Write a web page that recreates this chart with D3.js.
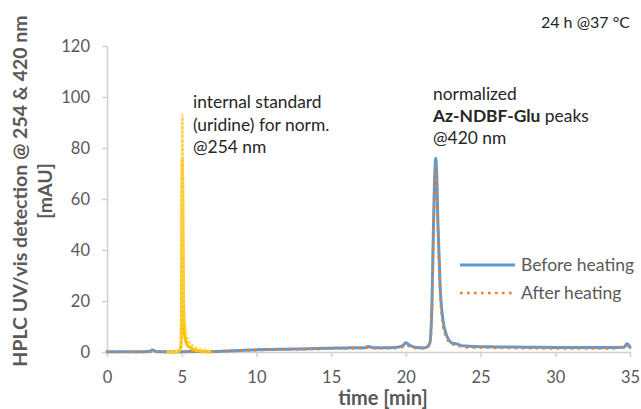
<html>
<head>
<meta charset="utf-8">
<style>
  body { margin: 0; background: #fff; }
  svg { display: block; font-family: "Lato", "Open Sans", sans-serif; }
</style>
<script src="https://cdn.jsdelivr.net/npm/d3@7"></script>
</head>
<body>
<div id="chart"></div>
<script>
// time [min] and signal [mAU]
const beforeTime = [0, 1, 2, 2.8, 3.05, 3.3, 4, 5, 6, 7, 8, 9, 10, 11, 12, 13, 14, 15, 16, 16.8, 17.2, 17.5, 17.8, 18.5, 19.3, 19.8, 20.0, 20.3, 20.7, 21.3, 21.6, 21.75, 21.85, 21.95, 22.0, 22.05, 22.15, 22.3, 22.5, 22.7, 22.9, 23.1, 23.4, 23.7, 24.2, 25, 26, 28, 30, 32, 34, 34.6, 34.8, 35];
const beforeValue = [0.1, 0.1, 0.1, 0.2, 0.8, 0.2, 0.1, 0.1, 0.2, 0.2, 0.4, 0.6, 0.9, 1.0, 1.1, 1.2, 1.4, 1.5, 1.6, 1.7, 1.6, 2.2, 1.7, 1.7, 1.8, 2.5, 3.6, 2.5, 1.8, 1.7, 3.5, 20, 50, 72, 76, 72, 50, 25, 12, 7, 4.5, 3.5, 3.2, 2.5, 2.3, 2.1, 2.0, 1.9, 1.8, 1.8, 1.8, 1.9, 3.2, 1.8];

const afterTime = [0, 1, 2, 3, 4, 5, 6, 7, 8, 9, 10, 11, 12, 13, 14, 15, 16, 17, 17.5, 18, 19, 19.8, 20.0, 20.3, 21, 21.6, 21.75, 21.85, 21.95, 22.0, 22.05, 22.15, 22.3, 22.5, 22.7, 22.9, 23.1, 23.4, 23.7, 24.2, 25, 26, 28, 30, 32, 34, 34.8, 35];
const afterValue = [0, 0, 0, 0.1, 0, 0, 0.1, 0.1, 0.3, 0.5, 0.7, 0.9, 1.0, 1.1, 1.2, 1.3, 1.4, 1.5, 1.7, 1.5, 1.5, 2.0, 2.8, 2.0, 1.4, 2.5, 17, 47, 69, 73, 69, 47, 23, 10, 6, 3.8, 3.0, 2.7, 2.2, 1.8, 1.7, 1.6, 1.5, 1.4, 1.4, 1.4, 2.5, 1.4];

// internal standard (uridine) @254 nm
const uridineTime = [4.0, 4.5, 4.8, 4.95, 5.0, 5.04, 5.08, 5.12, 5.17, 5.25, 5.35, 5.5, 5.7, 6.0, 6.3, 6.6, 7.0];
const uridineBefore = [0, 0, 0.3, 2, 25, 76, 45, 18, 9, 5, 3, 2, 1.2, 0.6, 0.3, 0.1, 0];
const uridineAfter = [0, 0.2, 0.6, 2.5, 30, 93, 60, 25, 14, 9, 6, 4, 2.5, 1.5, 1.0, 0.8, 0];

const xTicks = [0, 5, 10, 15, 20, 25, 30, 35];
const yTicks = [0, 20, 40, 60, 80, 100, 120];

const width = 641, height = 409;
const margin = { left: 107, right: 11, top: 46, bottom: 57 };

const svg = d3.select("#chart").append("svg")
  .attr("width", width)
  .attr("height", height);

const x = d3.scaleLinear().domain([0, 35]).range([margin.left, width - margin.right]);
const y = d3.scaleLinear().domain([0, 120]).range([height - margin.bottom, margin.top]);

const axisColor = "#d0d0d0";
const labelColor = "#595959";

// axes
const xAxis = svg.append("g")
  .attr("transform", `translate(0,${y(0)})`)
  .call(d3.axisBottom(x).tickValues(xTicks).tickSize(5).tickPadding(14).tickSizeOuter(0));
const yAxis = svg.append("g")
  .attr("transform", `translate(${x(0)},0)`)
  .call(d3.axisLeft(y).tickValues(yTicks).tickSize(5).tickPadding(12).tickSizeOuter(0));

[xAxis, yAxis].forEach(g => {
  g.select(".domain").attr("stroke", axisColor).attr("stroke-width", 1.5);
  g.selectAll(".tick line").attr("stroke", axisColor).attr("stroke-width", 1.5);
  g.selectAll(".tick text")
    .attr("fill", labelColor)
    .style("font-size", "16.5px")
    .style("font-family", "Lato, sans-serif");
});

const line = d3.line().x(d => x(d[0])).y(d => y(d[1])).curve(d3.curveMonotoneX);

function trace(tt, vv, color, w, dash, cap) {
  svg.append("path")
    .datum(d3.zip(tt, vv))
    .attr("fill", "none")
    .attr("stroke", color)
    .attr("stroke-width", w)
    .attr("stroke-dasharray", dash)
    .attr("stroke-linecap", cap || "butt")
    .attr("stroke-linejoin", "round")
    .attr("d", line);
}

trace(beforeTime, beforeValue, "#5b9bd5", 3, null, "round");
trace(afterTime, afterValue, "#ed7d31", 2.6, "2.6 4.4");
trace(uridineTime, uridineBefore, "#ffc000", 3.2, null);
trace(uridineTime, uridineAfter, "#ffd34d", 2.6, "2.4 2");

// legend
const legend = svg.append("g").attr("transform", "translate(460,265)");
legend.append("line").attr("x1", 0).attr("x2", 55).attr("y1", 0).attr("y2", 0)
  .attr("stroke", "#5b9bd5").attr("stroke-width", 3);
legend.append("line").attr("x1", 0).attr("x2", 56).attr("y1", 28).attr("y2", 28)
  .attr("stroke", "#ed7d31").attr("stroke-width", 2.6).attr("stroke-dasharray", "2.6 4.4");
legend.append("text").attr("x", 61).attr("y", 6).text("Before heating");
legend.append("text").attr("x", 61).attr("y", 34).text("After heating");
legend.selectAll("text").attr("fill", labelColor).style("font-size", "17.5px");

// annotations
const textColor = "#262626";
const ann1 = svg.append("text").attr("x", 193).attr("y", 108).attr("fill", textColor).style("font-size", "17.4px");
ann1.append("tspan").attr("x", 193).attr("dy", 0).text("internal standard");
ann1.append("tspan").attr("x", 193).attr("dy", 22.5).text("(uridine) for norm.");
ann1.append("tspan").attr("x", 193).attr("dy", 22.5).text("@254 nm");

const ann2 = svg.append("text").attr("x", 433).attr("y", 100).attr("fill", textColor).style("font-size", "17.4px");
ann2.append("tspan").attr("x", 433).attr("dy", 0).text("normalized");
const l2 = ann2.append("tspan").attr("x", 433).attr("dy", 22);
l2.append("tspan").attr("font-weight", "bold").text("Az-NDBF-Glu");
l2.append("tspan").text(" peaks");
ann2.append("tspan").attr("x", 433).attr("dy", 22).text("@420 nm");

svg.append("text")
  .attr("x", 630).attr("y", 28)
  .attr("text-anchor", "end")
  .attr("fill", textColor)
  .style("font-size", "16px")
  .text("24 h @37 °C");

// axis titles
svg.append("text")
  .attr("x", 383).attr("y", 405)
  .attr("text-anchor", "middle")
  .attr("fill", labelColor)
  .attr("font-weight", "bold")
  .style("font-size", "20px")
  .text("time [min]");

const yTitle = svg.append("text")
  .attr("transform", "translate(27,191) rotate(-90)")
  .attr("text-anchor", "middle")
  .attr("fill", labelColor)
  .attr("font-weight", "bold")
  .style("font-size", "19.5px");
yTitle.append("tspan").attr("x", 0).attr("dy", 0).text("HPLC UV/vis detection @ 254 & 420 nm");
yTitle.append("tspan").attr("x", 0).attr("dy", 25).text("[mAU]");
</script>
</body>
</html>
